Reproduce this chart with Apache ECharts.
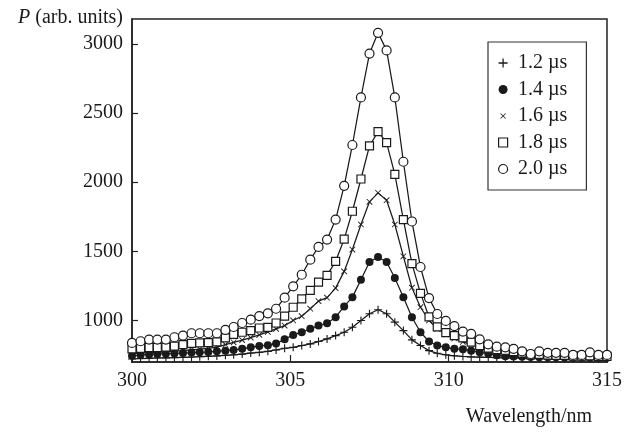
<!DOCTYPE html>
<html>
<head>
<meta charset="utf-8">
<script src="https://cdn.jsdelivr.net/npm/echarts@6/dist/echarts.min.js"></script>
<style>html,body{margin:0;padding:0;background:#fff;}#c{width:625px;height:432px;}</style>
</head>
<body>
<div id="c"></div>
<script>
const wavelength = [300.00,300.27,300.54,300.80,301.07,301.34,301.61,301.88,302.14,302.41,302.68,302.95,303.21,303.48,303.75,304.02,304.29,304.55,304.82,305.09,305.36,305.63,305.89,306.16,306.43,306.70,306.96,307.23,307.50,307.77,308.04,308.30,308.57,308.84,309.11,309.38,309.64,309.91,310.18,310.45,310.71,310.98,311.25,311.52,311.79,312.05,312.32,312.59,312.86,313.13,313.39,313.66,313.93,314.20,314.46,314.73,315.00];
const p12 = [722,725,727,729,730,732,734,736,738,741,744,748,752,757,765,770,777,787,799,806,819,831,848,867,891,915,951,1000,1049,1078,1049,988,927,860,819,782,763,752,745,740,737,735,733,731,730,729,728,727,727,726,726,725,725,724,724,723,723];
const p14 = [745,750,755,758,760,762,765,768,770,772,778,782,787,795,806,816,822,833,864,896,915,940,964,980,1024,1102,1169,1295,1423,1459,1423,1307,1169,1024,915,848,819,806,795,792,782,770,760,748,742,740,738,736,735,735,734,733,733,732,732,731,730];
const p16 = [760,765,768,770,773,778,782,788,793,798,808,825,842,858,876,896,918,940,963,1000,1031,1085,1140,1165,1234,1355,1513,1694,1858,1923,1870,1694,1464,1237,1096,1000,940,900,870,845,825,810,795,785,775,765,758,750,745,742,740,738,735,735,733,732,730];
const p18 = [795,798,805,805,808,815,825,835,838,840,845,875,900,915,927,946,950,982,1032,1096,1157,1218,1278,1326,1428,1588,1790,2023,2262,2366,2286,2057,1730,1411,1196,1026,954,912,891,875,843,819,800,790,785,775,765,752,755,750,748,748,742,742,745,740,740];
const p20 = [838,850,862,862,862,879,891,908,908,908,908,932,953,982,1006,1032,1052,1085,1165,1247,1331,1440,1532,1585,1730,1974,2269,2613,2930,3080,2953,2613,2148,1716,1387,1162,1047,997,960,920,903,864,828,811,806,795,777,758,777,766,766,766,751,751,770,751,751];
const seriesNames = ['1.2 µs','1.4 µs','1.6 µs','1.8 µs','2.0 µs'];
const xTicks = [300,305,310,315];
const yTicks = [1000,1500,2000,2500,3000];

const FONT = 'Liberation Serif';
const INK = '#1a1a1a';
const FS = 20;
const plusPath = 'path://M4.3,0H5.7V4.3H10V5.7H5.7V10H4.3V5.7H0V4.3H4.3Z';
const crossPath = 'path://M0,0h0.1v0.1h-0.1zM16,16h0.1v0.1h-0.1zM3,4L4,3L8,7L12,3L13,4L9,8L13,12L12,13L8,9L4,13L3,12L7,8Z';
const squarePath = 'path://M0,0H10V10H0Z';

const styles = [
  {symbol: plusPath, size: 8, item: {color: INK, borderWidth: 0}},
  {symbol: 'circle', size: 8, item: {color: INK, borderWidth: 0}},
  {symbol: crossPath, size: 10, item: {color: INK, borderWidth: 0}},
  {symbol: squarePath, size: 8, item: {color: '#fff', borderColor: INK, borderWidth: 1.2}},
  {symbol: 'circle', size: 9, item: {color: '#fff', borderColor: INK, borderWidth: 1.2}}
];
const values = [p12, p14, p16, p18, p20];

const series = values.map((vals, k) => ({
  name: seriesNames[k],
  type: 'line',
  data: wavelength.map((w, i) => [w, vals[i]]),
  symbol: styles[k].symbol,
  symbolSize: styles[k].size,
  showSymbol: true,
  showAllSymbol: true,
  lineStyle: {color: INK, width: 1.25},
  itemStyle: styles[k].item,
  emphasis: {disabled: true},
  animation: false,
  z: 2 + k
}));

const chart = echarts.init(document.getElementById('c'), null, {renderer: 'canvas'});
chart.setOption({
  backgroundColor: '#fff',
  animation: false,
  grid: {left: 132, right: 17, top: 19, bottom: 70, show: true, borderColor: '#222', borderWidth: 1.5, backgroundColor: 'transparent'},
  xAxis: {
    type: 'value', min: xTicks[0], max: xTicks[xTicks.length - 1], interval: 5,
    axisLine: {show: true, lineStyle: {color: '#222', width: 1.5}},
    axisTick: {show: true, inside: true, length: 7, lineStyle: {color: '#222', width: 1.2}},
    axisLabel: {color: INK, fontFamily: FONT, fontSize: FS, margin: 9, formatter: v => String(v)},
    splitLine: {show: false},
    name: 'Wavelength/nm', nameLocation: 'end', nameGap: 0,
    nameTextStyle: {color: INK, fontFamily: FONT, fontSize: FS, align: 'right', verticalAlign: 'top', padding: [45, 15, 0, 0]}
  },
  yAxis: {
    type: 'value', min: 700, max: 3180,
    axisLine: {show: true, lineStyle: {color: '#222', width: 1.5}},
    axisTick: {show: true, inside: true, length: 6, customValues: yTicks, lineStyle: {color: '#222', width: 1.2}},
    axisLabel: {color: INK, fontFamily: FONT, fontSize: FS, margin: 9, customValues: yTicks, formatter: v => String(v)},
    splitLine: {show: false},
    name: '{i|P} (arb. units)', nameLocation: 'end', nameGap: 1,
    nameTextStyle: {color: INK, fontFamily: FONT, fontSize: FS, align: 'right', verticalAlign: 'middle', padding: [0, 9, 0, 0],
      rich: {i: {fontStyle: 'italic', fontFamily: FONT, fontSize: FS, color: INK}}}
  },
  legend: {
    orient: 'vertical', left: 488, top: 42,
    padding: [11, 19, 11, 10],
    itemWidth: 20, itemHeight: 9, itemGap: 6.5,
    borderColor: '#333', borderWidth: 1.2, backgroundColor: '#fff',
    textStyle: {color: INK, fontFamily: FONT, fontSize: FS, lineHeight: 20},
    selectedMode: false,
    data: seriesNames.map((n, k) => ({name: n, icon: styles[k].symbol, itemStyle: styles[k].item}))
  },
  series: series
});
</script>
</body>
</html>
